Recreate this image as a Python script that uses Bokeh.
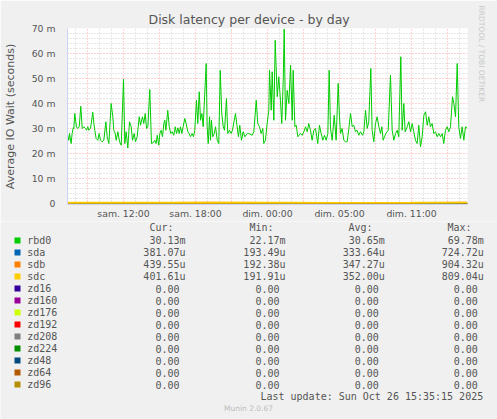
from bokeh.plotting import figure
from bokeh.models import Range1d, FixedTicker, Title
from bokeh.layouts import column
from bokeh.embed import file_html
from bokeh.resources import INLINE
from bokeh.core.properties import value

# ---------------- data ----------------
# time in hours relative to Saturday 12:00 (local); values in milliseconds
times_h = [
    -4.69, -4.56, -4.50, -4.36, -4.28, -4.19, -4.14, -4.06, -3.92, -3.81,
    -3.69, -3.56, -3.44, -3.31, -3.17, -3.08, -2.97, -2.89, -2.75, -2.56,
    -2.47, -2.39, -2.28, -2.14, -2.03, -1.92, -1.78, -1.64, -1.47, -1.36,
    -1.22, -1.03, -0.89, -0.81, -0.69, -0.61, -0.47, -0.33, -0.19, 0.00,
    0.11, 0.22, 0.36, 0.50, 0.64, 0.75, 0.89, 1.00, 1.14, 1.31,
    1.42, 1.58, 1.69, 1.81, 1.92, 2.03, 2.19, 2.33, 2.47, 2.61,
    2.72, 2.81, 2.94, 3.03, 3.14, 3.25, 3.36, 3.44, 3.53, 3.69,
    3.81, 3.94, 4.06, 4.19, 4.31, 4.42, 4.53, 4.64, 4.75, 4.86,
    4.97, 5.11, 5.22, 5.36, 5.47, 5.58, 5.72, 5.83, 5.94, 6.08,
    6.19, 6.31, 6.42, 6.53, 6.64, 6.89, 6.97, 7.06, 7.17, 7.25,
    7.33, 7.44, 7.56, 7.67, 7.81, 7.94, 8.06, 8.19, 8.31, 8.42,
    8.58, 8.69, 8.83, 8.97, 9.08, 9.33, 9.47, 9.58, 9.69, 9.83,
    9.97, 10.11, 10.31,
    10.44, 10.72, 10.86, 11.06, 11.19, 11.33, 11.47, 11.61, 11.69, 11.83,
    11.97, 12.11, 12.17, 12.31, 12.39, 12.53, 12.64, 12.81, 12.94, 13.08,
    13.19, 13.31, 13.39, 13.50, 13.64, 13.78, 13.92, 14.06, 14.14, 14.28,
    14.39, 14.53, 14.75, 14.89, 15.03, 15.17, 15.31, 15.44, 15.58, 15.72,
    15.86, 16.00, 16.19, 16.33, 16.47, 16.61, 16.75, 16.89, 17.03, 17.14,
    17.25, 17.39, 17.56, 17.72, 17.89, 18.00, 18.08, 18.22, 18.36, 18.50,
    18.64, 18.78, 18.92, 19.06, 19.19, 19.33, 19.47, 19.61, 19.75, 19.92,
    20.03, 20.17, 20.31, 20.44, 20.61, 20.72, 20.86, 21.00, 21.14, 21.28,
    21.42, 21.53, 21.64, 21.75, 21.86, 22.06, 22.25, 22.39, 22.53, 22.67,
    22.81, 22.94, 23.11, 23.22, 23.36, 23.47, 23.64, 23.78, 23.92, 24.06,
    24.19, 24.33, 24.47, 24.61, 24.75, 24.89, 25.03, 25.17, 25.31, 25.44,
    25.58, 25.72, 25.86, 26.00, 26.14, 26.28, 26.42, 26.56, 26.69, 26.83,
    26.97, 27.11, 27.25, 27.42, 27.53, 27.67, 27.81, 27.94, 28.08, 28.22,
    28.36, 28.50, 28.64,
]
rbd0_ms = [
    28.0, 25.3, 28.0, 24.0, 28.0, 30.3, 30.0, 36.0, 30.7, 30.0,
    30.7, 38.9, 30.0, 30.7, 30.0, 29.3, 30.7, 29.3, 30.0, 36.5,
    32.0, 29.3, 26.0, 25.3, 28.0, 25.3, 24.7, 25.3, 32.7, 26.7,
    24.0, 40.0, 34.7, 29.3, 28.0, 25.3, 28.7, 24.7, 23.3, 49.7,
    24.0, 28.7, 22.2, 32.7, 30.7, 25.3, 28.0, 24.7, 26.7, 34.7,
    31.3, 34.7, 32.0, 36.0, 30.0, 30.7, 45.6, 24.0, 24.3, 25.3,
    24.0, 27.3, 23.3, 28.0, 29.3, 26.7, 32.0, 33.3, 29.3, 37.3,
    30.7, 28.0, 28.7, 27.3, 30.7, 28.0, 30.3, 28.0, 30.7, 28.0,
    30.7, 34.0, 32.0, 28.7, 28.0, 26.7, 28.0, 26.7, 29.3, 41.3,
    32.0, 44.7, 33.3, 36.0, 30.7, 56.0, 30.7, 24.0, 34.7, 25.3,
    33.3, 26.7, 28.0, 30.7, 25.3, 24.0, 53.3, 36.0, 30.7, 29.3,
    42.0, 28.0, 29.3, 28.0, 29.3, 36.0, 30.7, 26.7, 31.3, 25.3,
    28.7, 26.7, 28.0,
    28.0, 27.3, 28.7, 41.3, 32.0, 30.7, 28.0, 30.0, 24.0, 25.3,
    32.0, 37.3, 53.3, 37.3, 52.7, 33.3, 65.3, 42.7, 50.7, 41.3,
    32.0, 49.3, 69.8, 33.3, 45.3, 40.0, 55.3, 33.3, 53.3, 30.7,
    31.3, 26.7, 28.0, 27.3, 28.7, 30.7, 28.7, 32.0, 29.3, 25.3,
    29.3, 30.0, 24.0, 31.3, 28.0, 25.3, 27.3, 25.3, 28.0, 53.3,
    30.0, 25.3, 35.3, 25.3, 48.0, 34.7, 28.0, 30.0, 25.3, 24.7,
    24.7, 30.0, 36.0, 30.7, 31.3, 28.7, 29.3, 27.3, 28.7, 27.3,
    28.7, 37.3, 30.0, 32.7, 54.0, 29.3, 24.7, 32.0, 34.7, 30.7,
    28.0, 30.7, 25.3, 26.7, 28.0, 29.3, 51.3, 29.3, 25.3, 28.0,
    29.3, 26.7, 58.7, 29.3, 40.0, 28.7, 30.7, 32.7, 28.7, 32.0,
    28.7, 25.3, 24.0, 31.3, 22.7, 26.7, 35.3, 36.7, 31.3, 34.7,
    30.7, 32.0, 28.0, 28.7, 26.7, 28.0, 26.7, 28.0, 24.0, 29.3,
    30.7, 28.7, 30.7, 42.7, 40.0, 34.7, 56.0, 30.7, 26.0, 30.7,
    25.3, 30.7, 30.1,
]

# small disks (ms), coarse readings near zero
sd_times_h = [-4.67, 0.0, 4.0, 7.0, 12.0, 14.0, 18.0, 24.0, 25.0, 28.64]
sda_ms = [0.33, 0.30, 0.35, 0.31, 0.36, 0.33, 0.34, 0.32, 0.36, 0.38]
sdb_ms = [0.35, 0.33, 0.36, 0.42, 0.36, 0.32, 0.35, 0.34, 0.40, 0.44]
sdc_ms = [0.35, 0.34, 0.36, 0.40, 0.35, 0.42, 0.33, 0.34, 0.36, 0.40]

x_tick_hours = [0, 6, 12, 18, 24]
x_tick_labels = ["sam. 12:00", "sam. 18:00", "dim. 00:00", "dim. 05:00", "dim. 11:00"]
y_tick_ms = [0, 10, 20, 30, 40, 50, 60, 70]
y_tick_labels = ["0", "10 m", "20 m", "30 m", "40 m", "50 m", "60 m", "70 m"]

names = ["rbd0", "sda", "sdb", "sdc", "zd16", "zd160", "zd176", "zd192",
         "zd208", "zd224", "zd48", "zd64", "zd96"]
colors = ["#00CC00", "#0066B3", "#FF8000", "#FFCC00", "#330099", "#990099",
          "#CCFF00", "#FF0000", "#808080", "#008F00", "#00487D", "#B35A00", "#B38F00"]
cur_vals = ["30.13m", "381.07u", "439.55u", "401.61u"] + ["0.00"] * 9
min_vals = ["22.17m", "193.49u", "192.38u", "191.91u"] + ["0.00"] * 9
avg_vals = ["30.65m", "333.64u", "347.27u", "352.00u"] + ["0.00"] * 9
max_vals = ["69.78m", "724.72u", "904.32u", "809.04u"] + ["0.00"] * 9

TXT = "#555555"
BG = "#F0F0F0"
AXC = "#CCD2F4"
TOP_H = 221
W = 497
H = 419

# ---------------- chart ----------------
p = figure(width=W, height=TOP_H,
           x_range=Range1d(-4.667, 28.667), y_range=Range1d(-0.4, 70),
           output_backend="svg", toolbar_location=None,
           min_border_left=67, min_border_right=30, min_border_top=28, min_border_bottom=17)
p.frame_align = False
p.background_fill_color = "white"
p.border_fill_color = BG
p.outline_line_color = None

p.title.text = "Disk latency per device - by day"
p.title.align = "left"
p.title.offset = 81
p.title.standoff = 3
p.title.text_font = "DejaVu Sans"
p.title.text_font_size = "12.5px"
p.title.text_font_style = "normal"
p.title.text_color = TXT

p.add_layout(Title(text="RRDTOOL / TOBI OETIKER", align="left", offset=-23,
                   standoff=19, text_font="DejaVu Sans", text_font_size="7.5px",
                   text_font_style="normal", text_color="#C8C8C8"), "right")

p.xaxis.ticker = FixedTicker(ticks=x_tick_hours)
p.xaxis.major_label_overrides = dict(zip(x_tick_hours, x_tick_labels))
p.yaxis.ticker = FixedTicker(ticks=y_tick_ms)
p.yaxis.major_label_overrides = dict(zip(y_tick_ms, y_tick_labels))
for ax in (p.xaxis, p.yaxis):
    ax.major_tick_line_color = None
    ax.minor_tick_line_color = None
    ax.axis_line_color = AXC
    ax.major_label_text_font = "DejaVu Sans"
    ax.major_label_text_font_size = "9.3px"
    ax.major_label_text_color = TXT
p.xaxis.major_label_standoff = -3
p.yaxis.major_label_standoff = 6
p.yaxis.axis_label = "Average IO Wait (seconds)"
p.yaxis.axis_label_text_font = "DejaVu Sans"
p.yaxis.axis_label_text_font_size = "11px"
p.yaxis.axis_label_text_font_style = "normal"
p.yaxis.axis_label_text_color = TXT
p.yaxis.axis_label_standoff = 12

gx_major = list(range(-3, 29, 3))
gx_minor = [h for h in range(-4, 29) if h % 3 != 0]
gy_major = list(range(0, 71, 10))
gy_minor = [v for v in range(2, 70, 2) if v % 10 != 0]
p.xgrid.ticker = FixedTicker(ticks=gx_major, minor_ticks=gx_minor)
p.ygrid.ticker = FixedTicker(ticks=gy_major, minor_ticks=gy_minor)
for g in (p.xgrid, p.ygrid):
    g.grid_line_color = "#FF0000"
    g.grid_line_alpha = 0.35
    g.grid_line_dash = "1 2"
    g.minor_grid_line_color = "#BBBBBB"
    g.minor_grid_line_alpha = 0.7
    g.minor_grid_line_dash = "1 2"

for c in colors[4:]:
    p.line([sd_times_h[0], sd_times_h[-1]], [0.0, 0.0], line_color=c, line_width=1)
p.line(times_h, rbd0_ms, line_color=colors[0], line_width=1)
p.line(sd_times_h, sda_ms, line_color=colors[1], line_width=1.2)
p.line(sd_times_h, sdb_ms, line_color=colors[2], line_width=1.2)
p.line(sd_times_h, sdc_ms, line_color=colors[3], line_width=1.6)

# ---------------- legend table ----------------
LH = H - TOP_H
q = figure(width=W, height=LH, x_range=Range1d(0, W), y_range=Range1d(LH, 0),
           output_backend="svg", toolbar_location=None, min_border=0,
           x_axis_location=None, y_axis_location=None)
q.frame_align = False
q.grid.visible = False
q.outline_line_color = None
q.background_fill_color = BG
q.border_fill_color = BG

mono = value("DejaVu Sans Mono")
row_y = [240 - TOP_H + 12 * i for i in range(len(names))]
col_right = [185, 285, 384.3, 483.3]
col_left = [149, 249, 348, 447]

q.text(x=col_left, y=[227.3 - TOP_H] * 4, text=["Cur:", "Min:", "Avg:", "Max:"],
       text_font=mono, text_font_size="10px", text_color=TXT,
       text_align="left", text_baseline="middle")
q.quad(left=[14] * len(names), right=[20] * len(names),
       top=[y - 3 for y in row_y], bottom=[y + 3 for y in row_y],
       fill_color=colors, line_color=None)
q.text(x=[26.7] * len(names), y=row_y, text=names, text_font=mono,
       text_font_size="10px", text_color=TXT, text_align="left", text_baseline="middle")
for cr, vals in zip(col_right, [cur_vals, min_vals, avg_vals, max_vals]):
    xs = [cr - (6.0 if v[-1].isdigit() else 0.0) for v in vals]
    q.text(x=xs, y=row_y, text=vals, text_font=mono, text_font_size="10px",
           text_color=TXT, text_align="right", text_baseline="middle")
q.text(x=[482.7], y=[395.7 - TOP_H], text=["Last update: Sun Oct 26 15:35:15 2025"],
       text_font=mono, text_font_size="10px", text_color=TXT,
       text_align="right", text_baseline="middle")
q.text(x=[248], y=[407.7 - TOP_H], text=["Munin 2.0.67"], text_font=value("DejaVu Sans"),
       text_font_size="7.5px", text_color="#BBBBBB", text_align="center",
       text_baseline="middle")

layout = column(p, q, spacing=0)
open("out.html", "w").write(file_html(layout, INLINE))
